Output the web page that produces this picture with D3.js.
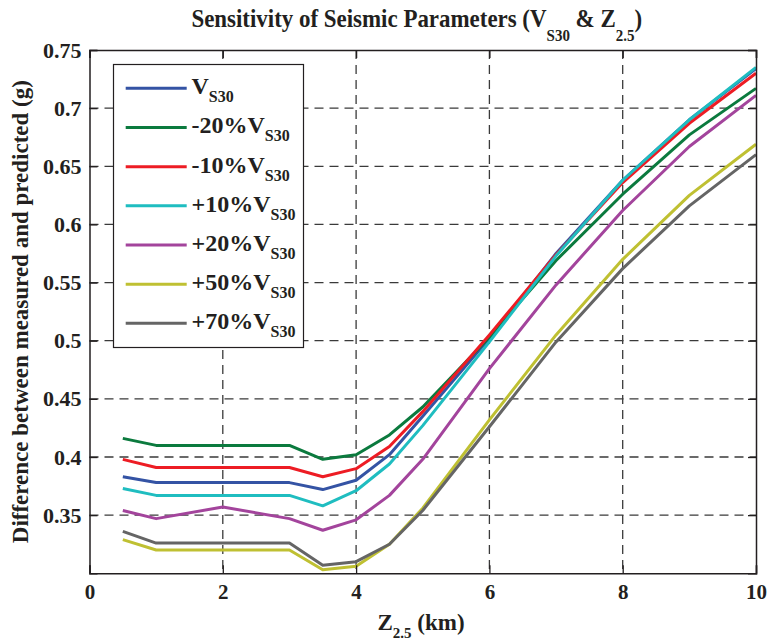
<!DOCTYPE html>
<html>
<head>
<meta charset="utf-8">
<script src="https://cdn.jsdelivr.net/npm/d3@7"></script>
<style>
  html, body { margin: 0; padding: 0; background: #fff; }
  svg { display: block; }
  text { font-family: "Liberation Serif", "Times New Roman", serif; font-weight: bold; fill: #231f20; }
</style>
</head>
<body>
<svg id="chart" width="768" height="644"></svg>
<script>
// Basin depth Z2.5 (km) at which each case was evaluated
const zValues = [0.5, 1, 2, 3, 3.5, 4, 4.5, 5, 6, 7, 8, 9, 10];

// Difference between measured and predicted PGA (g) for each Vs30 case
const vs30    = [0.383, 0.378, 0.378, 0.378, 0.372, 0.380, 0.402, 0.435, 0.502, 0.575, 0.638, 0.690, 0.734];
const minus20 = [0.416, 0.410, 0.410, 0.410, 0.398, 0.402, 0.419, 0.443, 0.503, 0.569, 0.626, 0.677, 0.717];
const minus10 = [0.398, 0.391, 0.391, 0.391, 0.383, 0.390, 0.409, 0.439, 0.505, 0.574, 0.636, 0.687, 0.730];
const plus10  = [0.373, 0.367, 0.367, 0.367, 0.358, 0.371, 0.394, 0.427, 0.499, 0.573, 0.638, 0.690, 0.735];
const plus20  = [0.354, 0.347, 0.357, 0.347, 0.337, 0.346, 0.367, 0.398, 0.476, 0.548, 0.612, 0.667, 0.711];
const plus50  = [0.329, 0.320, 0.320, 0.320, 0.303, 0.306, 0.325, 0.356, 0.432, 0.505, 0.570, 0.625, 0.669];
const plus70  = [0.336, 0.326, 0.326, 0.326, 0.307, 0.310, 0.325, 0.354, 0.426, 0.499, 0.562, 0.616, 0.660];

// Legend prefixes (each followed by V with subscript S30)
const seriesPrefixes = ["", "-20%", "-10%", "+10%", "+20%", "+50%", "+70%"];
const seriesColors = ["#3453a4", "#0b7a3e", "#ed1c24", "#1fbdc0", "#a3449c", "#bfc032", "#656565"];
const seriesValues = [vs30, minus20, minus10, plus10, plus20, plus50, plus70];

const xTicks = [0, 2, 4, 6, 8, 10];
const yTicks = [0.35, 0.4, 0.45, 0.5, 0.55, 0.6, 0.65, 0.7, 0.75];
const yTickLabels = ["0.35", "0.4", "0.45", "0.5", "0.55", "0.6", "0.65", "0.7", "0.75"];

const svg = d3.select("#chart");
const plot = { left: 89.5, right: 756, top: 50, bottom: 573.3 };

const x = d3.scaleLinear().domain([0, 10]).range([plot.left, plot.right]);
const y = d3.scaleLinear().domain([0.3, 0.75]).range([plot.bottom, plot.top]);

// Dashed grid
const grid = svg.append("g");
grid.selectAll("line.gx").data(xTicks.filter(d => d > 0 && d < 10)).join("line")
  .attr("x1", d => x(d)).attr("x2", d => x(d))
  .attr("y1", plot.top).attr("y2", plot.bottom)
  .attr("stroke", "#3a3a3a").attr("stroke-width", 1.3).attr("stroke-dasharray", "9,6");
grid.selectAll("line.gy").data(yTicks.filter(d => d < 0.75)).join("line")
  .attr("x1", plot.left).attr("x2", plot.right)
  .attr("y1", d => y(d)).attr("y2", d => y(d))
  .attr("stroke", "#3a3a3a").attr("stroke-width", 1.3).attr("stroke-dasharray", "9,6");

// Series lines
const line = d3.line().x((d, i) => x(zValues[i])).y(d => y(d));
svg.append("g").selectAll("path").data(seriesValues).join("path")
  .attr("d", d => line(d))
  .attr("fill", "none")
  .attr("stroke", (d, i) => seriesColors[i])
  .attr("stroke-width", 3)
  .attr("stroke-linejoin", "round");

// Axes (inward ticks, box on all sides)
const tickLen = 8;
const bottomAxis = d3.axisBottom(x).tickValues(xTicks).tickSize(-tickLen).tickPadding(11).tickFormat(d3.format("d"));
const topAxis = d3.axisTop(x).tickValues(xTicks).tickSize(-tickLen).tickFormat("");
const leftAxis = d3.axisLeft(y).tickValues(yTicks).tickSize(-tickLen).tickPadding(8)
  .tickFormat((d, i) => yTickLabels[i]);
const rightAxis = d3.axisRight(y).tickValues(yTicks).tickSize(-tickLen).tickFormat("");

function styleAxis(g, size) {
  g.select(".domain").attr("stroke", "#231f20").attr("stroke-width", 1.5);
  g.selectAll(".tick line").attr("stroke", "#231f20").attr("stroke-width", 1.3);
  g.selectAll(".tick text").style("font-family", "Liberation Serif, serif")
    .style("font-weight", "bold").style("font-size", size + "px").attr("fill", "#231f20");
}
svg.append("g").attr("transform", `translate(0,${plot.bottom})`).call(bottomAxis).call(styleAxis, 21);
svg.append("g").attr("transform", `translate(0,${plot.top})`).call(topAxis).call(styleAxis, 21);
svg.append("g").attr("transform", `translate(${plot.left},0)`).call(leftAxis).call(styleAxis, 22);
svg.append("g").attr("transform", `translate(${plot.right},0)`).call(rightAxis).call(styleAxis, 22);

// Text with subscripts: a subscript part drops by subDy, the following part returns to the baseline
function addSub(textSel, parts, subSize, subDy) {
  let shift = 0;
  parts.forEach(p => {
    const ts = textSel.append("tspan").text(p.t);
    if (p.sub) {
      ts.attr("dy", subDy).style("font-size", subSize + "px");
      shift = subDy;
    } else if (shift) {
      ts.attr("dy", -shift);
      shift = 0;
    }
  });
}

// Title, condensed horizontally to its set width
const titleCx = (plot.left + plot.right) / 2 - 6;
const title = svg.append("text")
  .attr("x", titleCx).attr("y", 27)
  .attr("text-anchor", "middle").style("font-size", "26px");
addSub(title, [{ t: "Sensitivity of Seismic Parameters (V" }, { t: "S30", sub: true },
  { t: " & Z" }, { t: "2.5", sub: true }, { t: ")" }], 17, 14);
const titleW = title.node().getBBox().width;
const sx = 451 / titleW;
title.attr("transform", `translate(${titleCx},0) scale(${sx},1) translate(${-titleCx},0)`);

// X axis label
const xLabel = svg.append("text")
  .attr("x", 421).attr("y", 630)
  .attr("text-anchor", "middle").style("font-size", "23px");
addSub(xLabel, [{ t: "Z" }, { t: "2.5", sub: true }, { t: " (km)" }], 15, 8);

// Y axis label
svg.append("text")
  .attr("transform", `translate(28,${(plot.top + plot.bottom) / 2}) rotate(-90)`)
  .attr("text-anchor", "middle").style("font-size", "23px")
  .text("Difference between measured and predicted (g)");

// Legend
const legend = svg.append("g");
legend.append("rect")
  .attr("x", 113.5).attr("y", 64.5).attr("width", 190).attr("height", 283)
  .attr("fill", "#fff").attr("stroke", "#231f20").attr("stroke-width", 1.2);
const legY = d3.scaleLinear().domain([0, 6]).range([88.3, 323.3]);
seriesPrefixes.forEach((p, i) => {
  legend.append("line")
    .attr("x1", 125.7).attr("x2", 186.7)
    .attr("y1", legY(i)).attr("y2", legY(i))
    .attr("stroke", seriesColors[i]).attr("stroke-width", 3);
  const t = legend.append("text")
    .attr("x", 191.5).attr("y", legY(i) + 6).style("font-size", "24px");
  addSub(t, [{ t: p + "V" }, { t: "S30", sub: true }], 16, 8);
});
</script>
</body>
</html>
